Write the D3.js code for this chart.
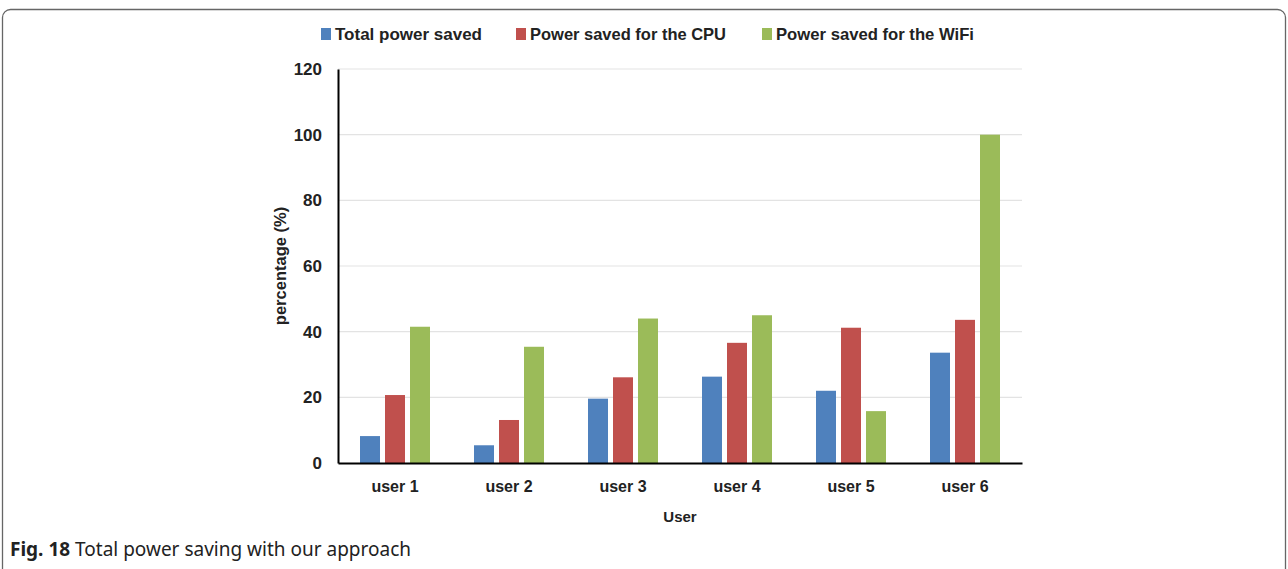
<!DOCTYPE html>
<html>
<head>
<meta charset="utf-8">
<script src="https://cdn.jsdelivr.net/npm/d3@7"></script>
<style>
  html, body { margin: 0; padding: 0; background: #fff; }
</style>
</head>
<body>
<svg id="chart" width="1288" height="569"></svg>
<script>
const users = ['user 1', 'user 2', 'user 3', 'user 4', 'user 5', 'user 6'];
const seriesNames = ['Total power saved', 'Power saved for the CPU', 'Power saved for the WiFi'];
const totalSaved = [8.2, 5.4, 19.6, 26.3, 22.0, 33.6];
const cpuSaved = [20.7, 13.1, 26.1, 36.6, 41.2, 43.6];
const wifiSaved = [41.5, 35.4, 44.0, 45.0, 15.8, 100];
const yTicks = [0, 20, 40, 60, 80, 100, 120];
const colours = ['#4F81BD', '#C0504D', '#9BBB59'];

const svg = d3.select('#chart');
const labelFont = '"Liberation Sans", Arial, sans-serif';

// outer frame
svg.append('rect')
    .attr('x', 2.5)
    .attr('y', 9.5)
    .attr('width', 1283)
    .attr('height', 600)
    .attr('rx', 8)
    .attr('fill', 'none')
    .attr('stroke', '#666')
    .attr('stroke-width', 1.3);

const margin = {left: 338, right: 1022, top: 69, bottom: 463};

const x = d3.scaleBand()
    .domain(users)
    .range([margin.left, margin.right]);

const y = d3.scaleLinear()
    .domain([0, 120])
    .range([margin.bottom, margin.top]);

const barW = 20, barGap = 5;

// gridlines
svg.append('g')
    .selectAll('line')
    .data(yTicks.filter(d => d > 0))
    .join('line')
    .attr('x1', margin.left)
    .attr('x2', margin.right)
    .attr('y1', d => y(d))
    .attr('y2', d => y(d))
    .attr('stroke', '#e3e3e3')
    .attr('stroke-width', 1.2);

// bars
const data = users.map((u, i) => ({user: u, values: [totalSaved[i], cpuSaved[i], wifiSaved[i]]}));
const groups = svg.append('g')
    .selectAll('g')
    .data(data)
    .join('g')
    .attr('transform', d => `translate(${x(d.user) + x.bandwidth() / 2}, 0)`);

groups.selectAll('rect')
    .data(d => d.values)
    .join('rect')
    .attr('x', (d, i) => (i - 1) * (barW + barGap) - barW / 2)
    .attr('y', d => y(d))
    .attr('width', barW)
    .attr('height', d => y(0) - y(d))
    .attr('fill', (d, i) => colours[i]);

// y axis
const yAxis = svg.append('g')
    .attr('transform', `translate(${margin.left}, 0)`)
    .call(d3.axisLeft(y).tickValues(yTicks).tickSize(0).tickPadding(16));
yAxis.select('.domain').attr('stroke', '#000').attr('stroke-width', 2);
yAxis.selectAll('text')
    .attr('font-family', labelFont)
    .attr('font-size', '17px')
    .attr('font-weight', 'bold')
    .attr('fill', '#222');

// x axis
const xAxis = svg.append('g')
    .attr('transform', `translate(0, ${margin.bottom})`)
    .call(d3.axisBottom(x).tickSize(0).tickPadding(18));
xAxis.select('.domain').attr('stroke', '#000').attr('stroke-width', 2);
xAxis.selectAll('text')
    .attr('font-family', labelFont)
    .attr('font-size', '16px')
    .attr('font-weight', 'bold')
    .attr('fill', '#222');

// axis titles
svg.append('text')
    .attr('transform', `translate(286, ${(margin.top + margin.bottom) / 2}) rotate(-90)`)
    .attr('text-anchor', 'middle')
    .attr('font-family', labelFont)
    .attr('font-size', '16.5px')
    .attr('font-weight', 'bold')
    .attr('fill', '#222')
    .text('percentage (%)');

svg.append('text')
    .attr('x', 680)
    .attr('y', 522)
    .attr('text-anchor', 'middle')
    .attr('font-family', labelFont)
    .attr('font-size', '15px')
    .attr('font-weight', 'bold')
    .attr('fill', '#222')
    .text('User');

// legend
const legendX = [321, 516, 762];
const legendTextW = [147, 196, 198];
const legend = svg.append('g')
    .selectAll('g')
    .data(seriesNames)
    .join('g')
    .attr('transform', (d, i) => `translate(${legendX[i]}, 34)`);

legend.append('rect')
    .attr('x', 0)
    .attr('y', -6)
    .attr('width', 10)
    .attr('height', 12)
    .attr('fill', (d, i) => colours[i]);

legend.append('text')
    .attr('x', 14)
    .attr('y', 0)
    .attr('dominant-baseline', 'central')
    .attr('font-family', labelFont)
    .attr('font-size', '17px')
    .attr('font-weight', 'bold')
    .attr('fill', '#222')
    .attr('textLength', (d, i) => legendTextW[i])
    .attr('lengthAdjust', 'spacingAndGlyphs')
    .text(d => d);

// caption
const caption = svg.append('text')
    .attr('x', 10)
    .attr('y', 556)
    .attr('font-family', '"Noto Sans", "Open Sans", sans-serif')
    .attr('font-size', '19px')
    .attr('fill', '#222');
caption.append('tspan')
    .attr('font-weight', 'bold')
    .text('Fig. 18');
caption.append('tspan')
    .text(' Total power saving with our approach');
</script>
</body>
</html>
